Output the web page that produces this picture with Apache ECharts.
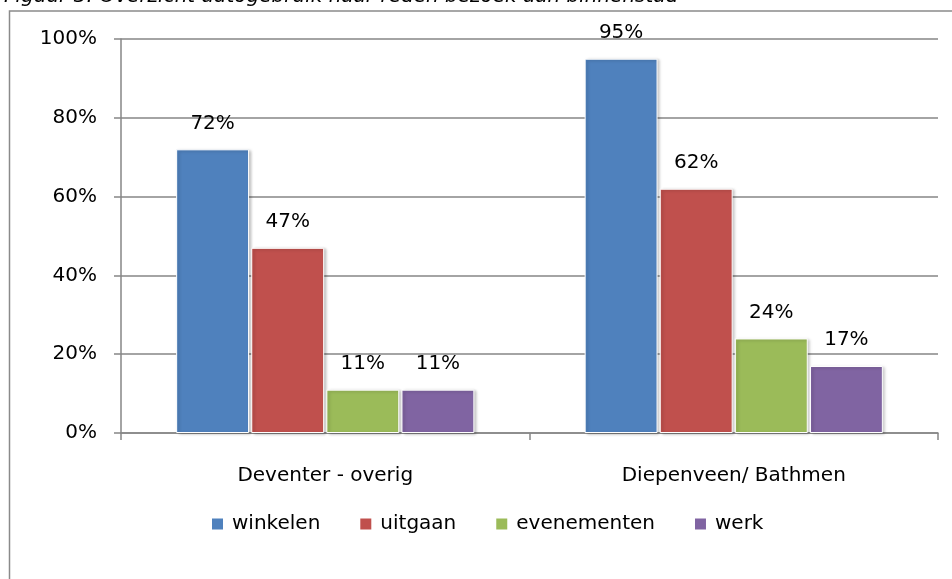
<!DOCTYPE html>
<html>
<head>
<meta charset="utf-8">
<script src="https://cdn.jsdelivr.net/npm/echarts@6/dist/echarts.min.js"></script>
<style>
  html, body { margin: 0; padding: 0; background: #fff; }
  #main { width: 952px; height: 579px; }
</style>
</head>
<body>
<div id="main"></div>
<script>
var categories = ['Deventer - overig', 'Diepenveen/ Bathmen'];
var seriesNames = ['winkelen', 'uitgaan', 'evenementen', 'werk'];
var winkelen = [72, 95];
var uitgaan = [47, 62];
var evenementen = [11, 24];
var werk = [11, 17];
var colors = ['#4F81BD', '#C0504D', '#9BBB59', '#8064A2'];
var yTicks = [0, 20, 40, 60, 80, 100];

var FONT = 'DejaVu Sans';
var values = [winkelen, uitgaan, evenementen, werk];

var series = seriesNames.map(function (name, i) {
  return {
    name: name,
    type: 'bar',
    data: values[i],
    barGap: '3%',
    barCategoryGap: '27%',
    itemStyle: {
      color: colors[i],
      borderColor: '#fff',
      borderWidth: 1,
      shadowColor: 'rgba(0,0,0,0.25)',
      shadowBlur: 3,
      shadowOffsetX: 2,
      shadowOffsetY: 1
    },
    label: {
      show: true,
      position: 'top',
      distance: 16,
      formatter: '{c}%',
      color: '#000',
      fontFamily: FONT,
      fontSize: 20
    }
  };
});

var myChart = echarts.init(document.getElementById('main'));
myChart.setOption({
  animation: false,
  color: colors,
  title: {
    text: 'Figuur 3: Overzicht autogebruik naar reden bezoek aan binnenstad',
    left: -1,
    top: -18,
    textStyle: {
      fontFamily: FONT,
      fontStyle: 'italic',
      fontWeight: 'normal',
      fontSize: 20,
      color: '#000'
    }
  },
  graphic: [{
    type: 'rect',
    shape: { x: 9.5, y: 11, width: 1000, height: 700 },
    style: { fill: 'none', stroke: '#8a8a8a', lineWidth: 1.5 },
    z: -1
  }],
  legend: {
    data: seriesNames,
    left: 207,
    top: 509,
    itemWidth: 11,
    itemHeight: 11,
    itemGap: 40,
    icon: 'rect',
    itemStyle: { borderWidth: 0, shadowBlur: 0, shadowOffsetX: 0, shadowOffsetY: 0 },
    textStyle: {
      fontFamily: FONT,
      fontSize: 20,
      color: '#000',
      padding: [0, 0, 0, 4]
    }
  },
  grid: {
    left: 121,
    right: 14,
    top: 39,
    bottom: 146
  },
  xAxis: {
    type: 'category',
    data: categories,
    axisLine: { lineStyle: { color: '#868686', width: 1.5 } },
    axisTick: { show: true, length: 7, lineStyle: { color: '#868686', width: 1.5 } },
    axisLabel: {
      margin: 33,
      color: '#000',
      fontFamily: FONT,
      fontSize: 20
    }
  },
  yAxis: {
    type: 'value',
    min: yTicks[0],
    max: yTicks[yTicks.length - 1],
    interval: 20,
    axisLine: { show: true, lineStyle: { color: '#868686', width: 1.5 } },
    axisTick: { show: true, length: 7, lineStyle: { color: '#868686', width: 1.5 } },
    splitLine: { lineStyle: { color: '#868686', width: 1.5 } },
    axisLabel: {
      margin: 24,
      formatter: '{value}%',
      color: '#000',
      fontFamily: FONT,
      fontSize: 20
    }
  },
  series: series
});
</script>
</body>
</html>
